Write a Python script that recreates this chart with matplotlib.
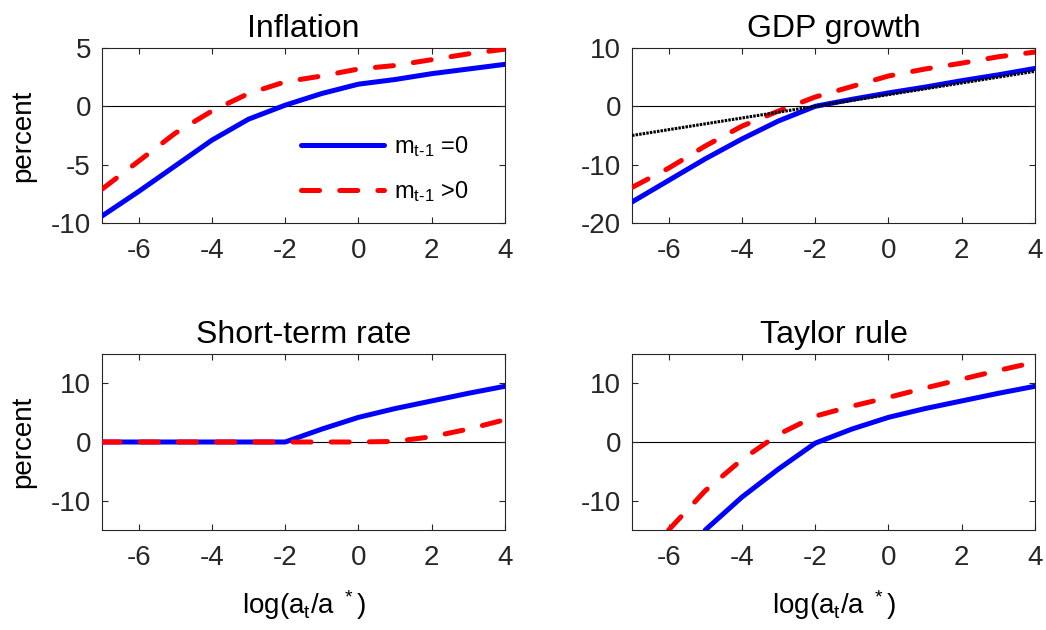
import matplotlib
matplotlib.use("Agg")
import matplotlib.pyplot as plt

plt.rcParams['font.family'] = ['Liberation Sans', 'DejaVu Sans']
plt.rcParams['mathtext.fontset'] = 'custom'
plt.rcParams['mathtext.rm'] = 'Liberation Sans'
plt.rcParams['mathtext.it'] = 'Liberation Sans'
plt.rcParams['mathtext.bf'] = 'Liberation Sans'
plt.rcParams['axes.unicode_minus'] = False
plt.rcParams['lines.scale_dashes'] = False

# ---- data ----
x = [-7, -6, -5, -4, -3, -2, -1, 0, 1, 2, 3, 4]

infl_m0 = [-9.4, -7.3, -5.1, -2.9, -1.1, 0.1, 1.1, 1.9, 2.3, 2.8, 3.2, 3.6]
infl_mp = [-7.1, -4.7, -2.3, -0.4, 1.1, 2.1, 2.6, 3.2, 3.5, 4.0, 4.5, 4.9]

gdp_m0 = [-16.4, -12.7, -9.0, -5.6, -2.5, 0.0, 1.2, 2.3, 3.3, 4.4, 5.4, 6.5]
gdp_mp = [-13.9, -10.6, -6.8, -3.4, -0.8, 1.6, 3.4, 5.2, 6.4, 7.4, 8.5, 9.3]
gdp_ref = [-5.0, -4.0, -3.0, -2.0, -1.0, 0.0, 1.0, 2.0, 3.0, 4.0, 5.0, 6.0]

rate_m0 = [0, 0, 0, 0, 0, 0, 2.2, 4.2, 5.7, 7.0, 8.3, 9.5]
rate_mp = [0, 0, 0, 0, 0, 0, 0, 0, 0.1, 0.9, 2.2, 3.8]

x_tr_m0 = [-5, -4, -3, -2, -1, 0, 1, 2, 3, 4]
taylor_m0 = [-15.0, -9.4, -4.6, -0.2, 2.2, 4.2, 5.7, 7.0, 8.3, 9.5]
x_tr_mp = [-6, -5, -4, -3, -2, -1, 0, 1, 2, 3, 4]
taylor_mp = [-15.0, -8.3, -3.0, 1.3, 4.4, 6.1, 7.6, 9.2, 10.7, 12.2, 13.6]

titles = ['Inflation', 'GDP growth', 'Short-term rate', 'Taylor rule']
xticks = [-6, -4, -2, 0, 2, 4]
yticks_list = [[-10, -5, 0, 5], [-20, -10, 0, 10], [-10, 0, 10], [-10, 0, 10]]
ylims = [(-10, 5), (-20, 10), (-15, 15), (-15, 15)]
leg_labels = ['m$_{t\u20101}$ =0', 'm$_{t\u20101}$ >0']

# ---- figure ----
W, H = 1046, 630
fig = plt.figure(figsize=(W / 100, H / 100), dpi=100)

def px_axes(l, t, r, b):
    return fig.add_axes([l / W, 1 - b / H, (r - l) / W, (b - t) / H])

axs = [px_axes(102, 48, 505, 223), px_axes(632, 48, 1035, 223),
       px_axes(102, 354, 505, 530), px_axes(632, 354, 1035, 530)]

blue = '#0000FF'
red = '#FF0000'
lw = 3.6
dash = (13, 14.5)
gray = '#262626'

def style(ax, i):
    ax.set_xlim(-7, 4)
    ax.set_ylim(*ylims[i])
    ax.set_xticks(xticks)
    ax.set_yticks(yticks_list[i])
    ax.tick_params(direction='in', length=4, width=0.8, colors=gray,
                   labelsize=20, top=True, right=True)
    ax.tick_params(axis='x', pad=11)
    ax.tick_params(axis='y', pad=8)
    for s in ax.spines.values():
        s.set_color(gray)
        s.set_linewidth(0.8)
    ax.axhline(0, color='black', lw=0.8, zorder=1)
    ax.set_title(titles[i], fontsize=23, pad=8)

def dashed(ax, xx, yy, **kw):
    ln, = ax.plot(xx, yy, color=red, lw=lw, solid_capstyle='round',
                  dash_capstyle='round', **kw)
    ln.set_dashes(dash)
    return ln

ax = axs[0]
style(ax, 0)
h1, = ax.plot(x, infl_m0, color=blue, lw=lw, solid_capstyle='round', label=leg_labels[0], zorder=3)
h2 = dashed(ax, x, infl_mp, label=leg_labels[1], zorder=3)
ax.legend(handles=[h1, h2], loc='center left', bbox_to_anchor=(0.495, 0.31),
          frameon=False, fontsize=17, handlelength=3.5, handletextpad=0.4,
          labelspacing=0.85, borderpad=0, borderaxespad=0)

ax = axs[1]
style(ax, 1)
ax.plot(x, gdp_m0, color=blue, lw=lw, solid_capstyle='round', zorder=3)
dashed(ax, x, gdp_mp, zorder=3)
ax.plot(x, gdp_ref, color='black', lw=2.2, linestyle=(0, (1.8, 0.8)), zorder=4)

ax = axs[2]
style(ax, 2)
ax.plot(x, rate_m0, color=blue, lw=lw, solid_capstyle='round', zorder=3)
dashed(ax, x, rate_mp, zorder=3)

ax = axs[3]
style(ax, 3)
ax.plot(x_tr_m0, taylor_m0, color=blue, lw=lw, solid_capstyle='round', zorder=3)
dashed(ax, x_tr_mp, taylor_mp, zorder=3)

for ax in (axs[0], axs[2]):
    ax.set_ylabel('percent', fontsize=20, color='black')
    ax.yaxis.set_label_coords(-0.163, 0.5)
for ax in (axs[2], axs[3]):
    ax.set_xlabel(r'log(a$_t$/a $^*$)', fontsize=20)
    ax.xaxis.set_label_coords(0.5, -0.33)

fig.savefig('out.png', dpi=100)
